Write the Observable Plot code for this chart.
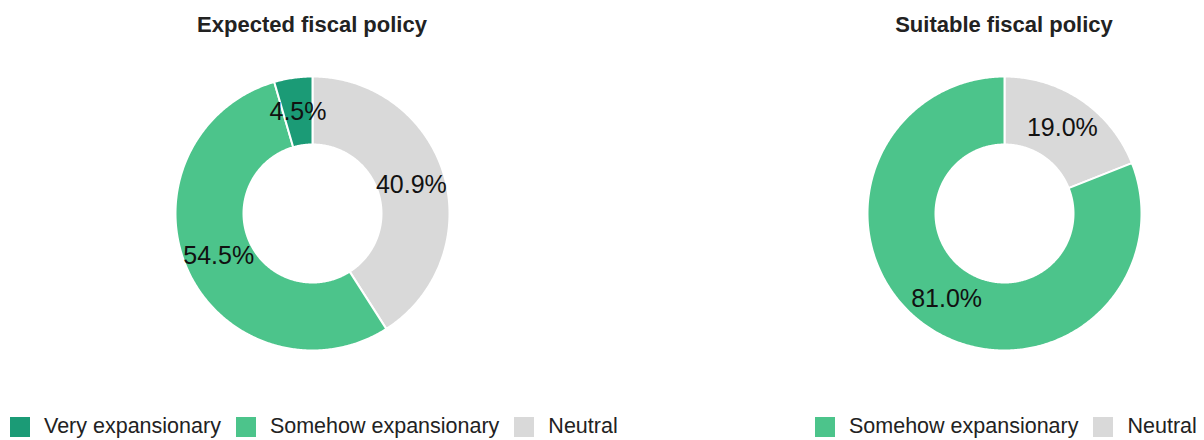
<!DOCTYPE html>
<html>
<head>
<meta charset="utf-8">
<script src="https://cdn.jsdelivr.net/npm/d3@7"></script>
<script src="https://cdn.jsdelivr.net/npm/@observablehq/plot@0.6"></script>
<style>
  html, body { margin: 0; padding: 0; background: #fff; }
  #root { position: relative; width: 1204px; height: 440px; overflow: hidden; font-family: "Liberation Sans", Arial, sans-serif; }
  .title { position: absolute; text-align: center; font-weight: bold; font-size: 22px; color: #222; line-height: 1; }
  .chart { position: absolute; }
  .leg { position: absolute; width: 700px; white-space: nowrap; }
  .lg-swatches { font-family: "Liberation Sans", Arial, sans-serif !important; font-size: 21.5px !important; color: #222 !important; margin: 0 !important; min-height: 0 !important; flex-wrap: nowrap !important; }
  .lg-swatch { margin-right: 15px !important; white-space: nowrap; }
  .lg-swatch > svg { margin-right: 14px !important; }
</style>
</head>
<body>
<div id="root"></div>
<script>
// ---- Data ----
const titles = ["Expected fiscal policy", "Suitable fiscal policy"];
const allCategories = ["Very expansionary", "Somehow expansionary", "Neutral"];
const allColors = ["#1b9b76", "#4cc48b", "#d9d9d9"];

// slices listed clockwise from 12 o'clock
const expectedCategories = ["Neutral", "Somehow expansionary", "Very expansionary"];
const expectedValues = [40.9, 54.5, 4.5];

const suitableCategories = ["Neutral", "Somehow expansionary"];
const suitableValues = [19.0, 81.0];

const legend1 = ["Very expansionary", "Somehow expansionary", "Neutral"];
const legend2 = ["Somehow expansionary", "Neutral"];

// ---- Layout ----
const R_OUT = 137, R_IN = 69, R_LABEL = 103;
const SIZE = 300;
const root = document.getElementById("root");
const colorOf = c => allColors[allCategories.indexOf(c)];

function donut(categories, values) {
  const pie = d3.pie().sort(null).value(d => d.value)(categories.map((c, i) => ({category: c, value: values[i]})));
  const rings = [];
  const labels = [];
  pie.forEach(p => {
    const a0 = p.startAngle, a1 = p.endAngle;
    const n = Math.max(2, Math.ceil((a1 - a0) / 0.01));
    for (let k = 0; k <= n; k++) {
      const a = a0 + (a1 - a0) * k / n;
      rings.push({category: p.data.category, x: R_OUT * Math.sin(a), y: R_OUT * Math.cos(a)});
    }
    for (let k = n; k >= 0; k--) {
      const a = a0 + (a1 - a0) * k / n;
      rings.push({category: p.data.category, x: R_IN * Math.sin(a), y: R_IN * Math.cos(a)});
    }
    const m = (a0 + a1) / 2;
    labels.push({x: R_LABEL * Math.sin(m), y: R_LABEL * Math.cos(m), text: p.data.value.toFixed(1) + "%"});
  });
  return Plot.plot({
    width: SIZE, height: SIZE,
    margin: 0,
    x: {domain: [-SIZE / 2, SIZE / 2], axis: null},
    y: {domain: [-SIZE / 2, SIZE / 2], axis: null},
    color: {domain: allCategories, range: allColors},
    style: {background: "transparent", overflow: "visible"},
    marks: [
      Plot.line(rings, {x: "x", y: "y", z: "category", fill: "category", stroke: "white", strokeWidth: 2, curve: "linear-closed"}),
      Plot.text(labels, {x: "x", y: "y", text: "text", fill: "#111", fontSize: 25, fontFamily: "Liberation Sans, Arial, sans-serif", textAnchor: "middle", lineAnchor: "middle"})
    ]
  });
}

function place(el, cls, left, top, width) {
  const d = document.createElement("div");
  d.className = cls;
  d.style.left = left + "px";
  d.style.top = top + "px";
  if (width) d.style.width = width + "px";
  if (typeof el === "string") d.textContent = el; else d.appendChild(el);
  root.appendChild(d);
  return d;
}

function legend(domain) {
  return Plot.legend({
    color: {domain, range: domain.map(colorOf)},
    legend: "swatches",
    swatchWidth: 20, swatchHeight: 20,
    className: "lg"
  });
}

const centers = [[312, 213], [1004, 213]];
place(titles[0], "title", centers[0][0] - 300, 14, 600);
place(titles[1], "title", centers[1][0] - 300, 14, 600);
place(donut(expectedCategories, expectedValues), "chart", centers[0][0] - SIZE / 2, centers[0][1] - SIZE / 2);
place(donut(suitableCategories, suitableValues), "chart", centers[1][0] - SIZE / 2, centers[1][1] - SIZE / 2);
place(legend(legend1), "leg", 10, 414);
place(legend(legend2), "leg", 815, 414);
</script>
</body>
</html>
